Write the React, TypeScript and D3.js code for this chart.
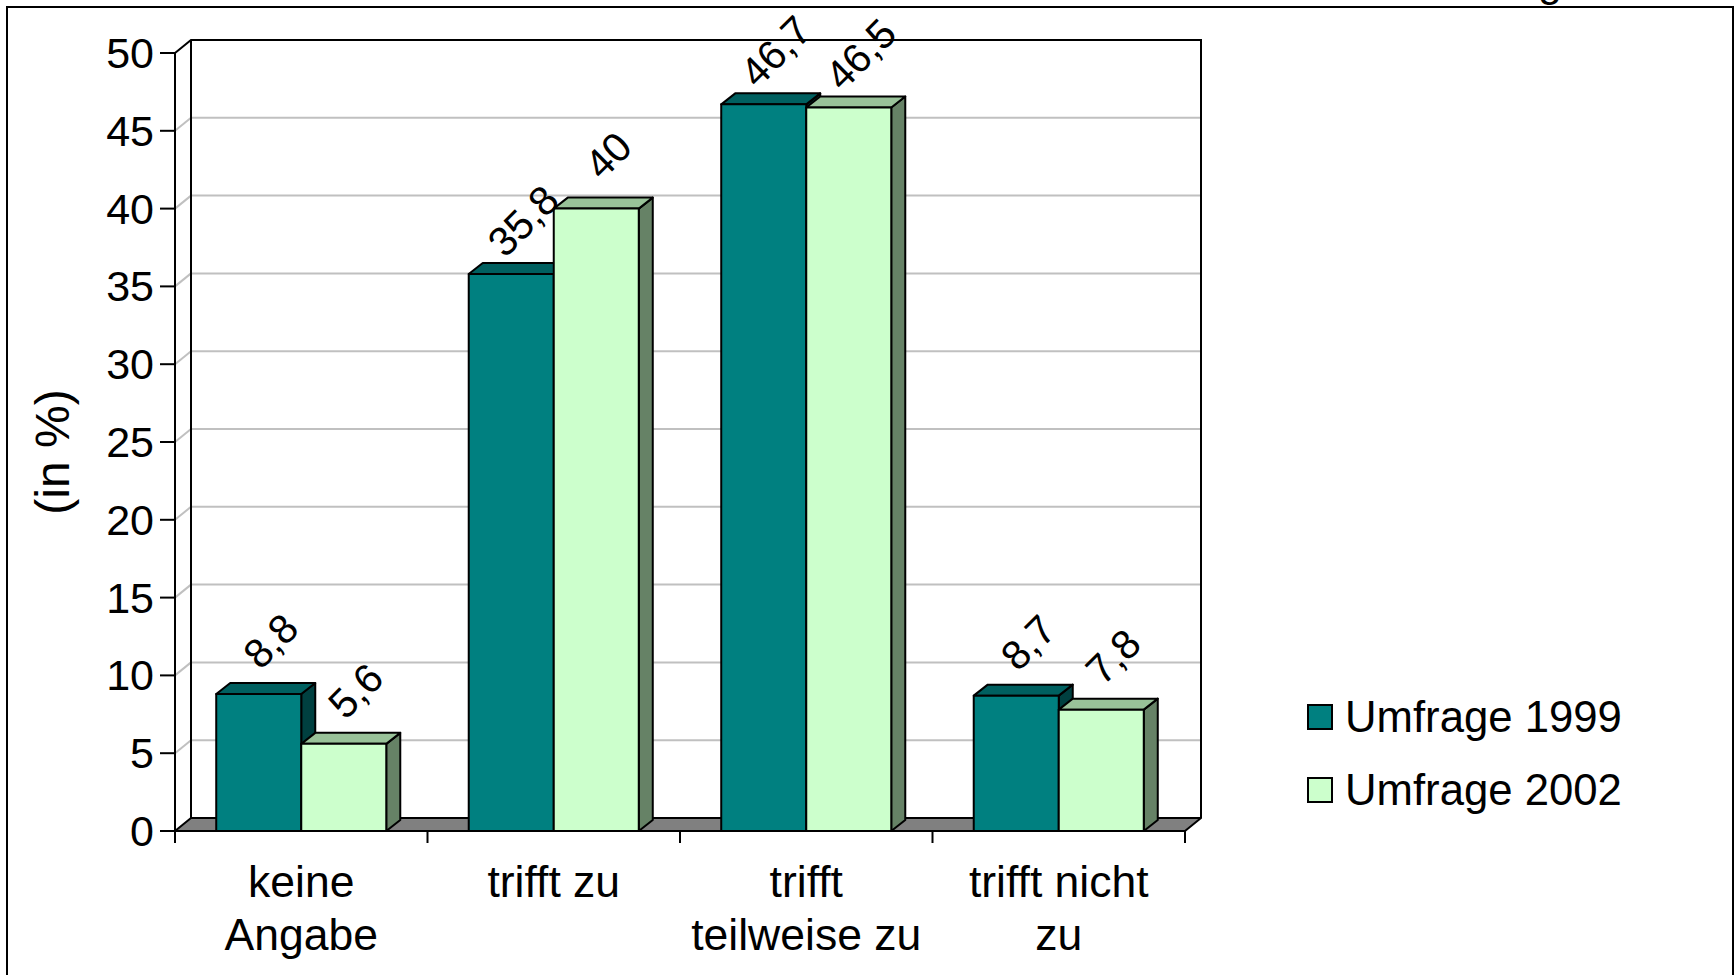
import React from "react";
import * as d3 from "d3";

const categories: string[][] = [["keine", "Angabe"], ["trifft zu"], ["trifft", "teilweise zu"], ["trifft nicht", "zu"]];
const categoryKeys = ["keine Angabe", "trifft zu", "trifft teilweise zu", "trifft nicht zu"];
const seriesNames = ["Umfrage 1999", "Umfrage 2002"];
const values1999 = [8.8, 35.8, 46.7, 8.7];
const values2002 = [5.6, 40, 46.5, 7.8];
const labels1999 = ["8,8", "35,8", "46,7", "8,7"];
const labels2002 = ["5,6", "40", "46,5", "7,8"];
const yTicks = [0, 5, 10, 15, 20, 25, 30, 35, 40, 45, 50];

const FONT = "'Liberation Sans', Arial, sans-serif";
const faceColors = [
  { front: "#008080", top: "#006060", side: "#004040" },
  { front: "#CCFFCC", top: "#99C299", side: "#668266" },
];

export default function App() {
  const W = 1735, H = 975;
  const left = 175, right = 1185, bottom = 831, top = 53;
  const WDX = 16, WDY = -13; // wall depth
  const BDX = 14, BDY = -11; // bar depth

  const y = d3.scaleLinear().domain([0, 50]).range([bottom, top]);
  const x0 = d3.scaleBand<string>().domain(categoryKeys).range([left, right]).paddingInner(0).paddingOuter(0);
  const x1 = d3.scaleBand<string>().domain(seriesNames).range([0, x0.bandwidth()]).paddingInner(0).paddingOuter(0.485);

  const seriesValues = [values1999, values2002];
  const seriesLabels = [labels1999, labels2002];

  const pts = (a: number[][]) => a.map((p) => p.join(",")).join(" ");

  const bars: JSX.Element[] = [];
  const labels: JSX.Element[] = [];
  categoryKeys.forEach((c, ci) => {
    seriesNames.forEach((s, si) => {
      const v = seriesValues[si][ci];
      const bx = (x0(c) as number) + (x1(s) as number);
      const bw = x1.bandwidth();
      const by = y(v);
      const col = faceColors[si];
      bars.push(
        <g key={`b${ci}-${si}`} stroke="#000" strokeWidth={2} strokeLinejoin="round">
          <polygon points={pts([[bx + bw, by], [bx + bw + BDX, by + BDY], [bx + bw + BDX, bottom + BDY], [bx + bw, bottom]])} fill={col.side} />
          <polygon points={pts([[bx, by], [bx + BDX, by + BDY], [bx + bw + BDX, by + BDY], [bx + bw, by]])} fill={col.top} />
          <rect x={bx} y={by} width={bw} height={bottom - by} fill={col.front} />
        </g>
      );
      const cx = bx + bw / 2 + 12;
      const cy = by - 53;
      labels.push(
        <text key={`l${ci}-${si}`} transform={`translate(${cx},${cy}) rotate(-45)`} textAnchor="middle" dominantBaseline="central" fontSize={41} fontFamily={FONT} fill="#000">
          {seriesLabels[si][ci]}
        </text>
      );
    });
  });

  const gridTicks = yTicks.filter((t) => t > 0 && t < 50);

  return (
    <svg width={W} height={H} style={{ position: "absolute", left: 0, top: 0, background: "#fff" }}>
      <rect x={0} y={0} width={W} height={H} fill="#fff" />
      <text x={1538} y={-4} fontSize={43} fontFamily={FONT} fill="#000">g</text>
      <rect x={7} y={7} width={1726} height={1000} fill="#fff" stroke="#000" strokeWidth={2} />

      {/* gridlines */}
      {gridTicks.map((t) => (
        <g key={`g${t}`} stroke="#c0c0c0" strokeWidth={2} fill="none">
          <line x1={left} y1={y(t)} x2={left + WDX} y2={y(t) + WDY} />
          <line x1={left + WDX} y1={y(t) + WDY} x2={right + WDX} y2={y(t) + WDY} />
        </g>
      ))}

      {/* walls outline */}
      <polyline points={pts([[left, y(50)], [left + WDX, y(50) + WDY], [right + WDX, y(50) + WDY], [right + WDX, bottom + WDY]])} fill="none" stroke="#000" strokeWidth={2} />
      <line x1={left + WDX} y1={y(50) + WDY} x2={left + WDX} y2={bottom + WDY} stroke="#000" strokeWidth={2} />

      {/* floor */}
      <polygon points={pts([[left, bottom], [right, bottom], [right + WDX, bottom + WDY], [left + WDX, bottom + WDY]])} fill="#808080" stroke="#000" strokeWidth={2} strokeLinejoin="round" />

      {bars}

      {/* y axis */}
      <line x1={left} y1={top} x2={left} y2={bottom} stroke="#000" strokeWidth={2} />
      {yTicks.map((t) => (
        <g key={`t${t}`}>
          <line x1={left - 15} y1={y(t)} x2={left} y2={y(t)} stroke="#000" strokeWidth={2} />
          <text x={left - 21} y={y(t)} textAnchor="end" dominantBaseline="central" fontSize={43} fontFamily={FONT} fill="#000">{t}</text>
        </g>
      ))}

      {/* x axis */}
      <line x1={left} y1={bottom} x2={right} y2={bottom} stroke="#000" strokeWidth={2} />
      {[...categoryKeys.map((c) => x0(c) as number), right].map((xx, i) => (
        <line key={`xt${i}`} x1={xx} y1={bottom} x2={xx} y2={bottom + 12} stroke="#000" strokeWidth={2} />
      ))}
      {categoryKeys.map((c, ci) => (
        <text key={`c${ci}`} textAnchor="middle" fontSize={44.5} fontFamily={FONT} fill="#000">
          {categories[ci].map((line, li) => (
            <tspan key={li} x={(x0(c) as number) + x0.bandwidth() / 2} y={897 + li * 53}>{line}</tspan>
          ))}
        </text>
      ))}

      {labels}

      {/* y axis title */}
      <text transform="translate(52,452) rotate(-90)" textAnchor="middle" dominantBaseline="central" fontSize={48} fontFamily={FONT} fill="#000">(in %)</text>

      {/* legend */}
      {seriesNames.map((s, si) => (
        <g key={`lg${si}`}>
          <rect x={1308} y={705 + si * 73} width={24} height={24} fill={faceColors[si].front} stroke="#000" strokeWidth={2} />
          <text x={1345} y={732 + si * 72.5} fontSize={43.7} fontFamily={FONT} fill="#000">{s}</text>
        </g>
      ))}
    </svg>
  );
}
